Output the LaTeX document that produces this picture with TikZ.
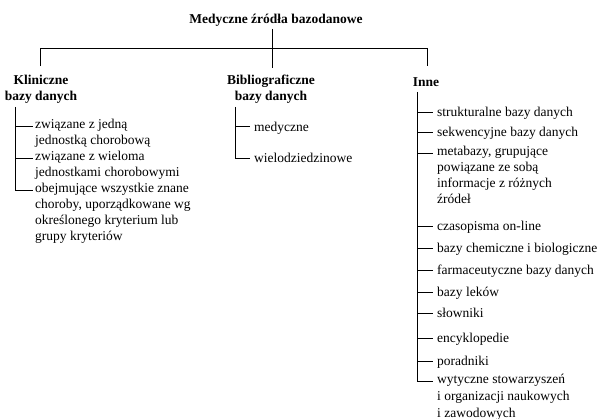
\documentclass[tikz,border=0pt]{standalone}
\usepackage{fontspec}
\setmainfont{Liberation Serif}
\begin{document}
\begin{tikzpicture}[x=1pt,y=-1pt,
  hd/.style={anchor=north, inner sep=0pt, align=center,
    font=\fontsize{13.5}{15.5}\selectfont\bfseries, execute at begin node=\strut},
  lst/.style={anchor=north west, inner sep=0pt, align=left,
    font=\fontsize{13.5}{16}\selectfont, execute at begin node=\strut},
  ln/.style={line width=0.8pt, draw=black}]
\useasboundingbox (0,0) rectangle (597,419);

% title and headings
\node[hd, anchor=base] (title) at (276,24) {Medyczne źródła bazodanowe};
\node[hd] (klin) at (41,75.15) {Kliniczne\\bazy danych};
\node[hd] (bib) at (271,75.15) {Bibliograficzne\\bazy danych};
\node[hd] (inne) at (426,75.15) {Inne};

\coordinate (jL) at (40,48);
\coordinate (jM) at (272.5,48);
\coordinate (jR) at (427,48);
\draw[ln] (title.south -| jM) -- ([yshift=7pt]bib.north -| jM);
\draw[ln] ([yshift=9pt]klin.north -| jL) -- (jL) -- (jR) -- ([yshift=9pt]inne.north -| jR);

% Kliniczne list
\node[lst] (kA) at (35,119.1) {związane z jedną\\jednostką chorobową};
\node[lst] (kB) at (35,151.1) {związane z wieloma\\jednostkami chorobowymi};
\node[lst] (kC) at (35,183.1) {obejmujące wszystkie znane\\choroby, uporządkowane wg\\określonego kryterium lub\\grupy kryteriów};
\coordinate (kv) at (15,107);
\foreach \n in {kA,kB,kC}{
  \coordinate (b\n) at ([yshift=-7.1pt]\n.north west);
  \draw[ln] (kv |- b\n) -- ([xshift=-2pt]b\n);
}
\draw[ln] (kv) -- (kv |- bkC);

% Bibliograficzne list
\node[lst] (bA) at (254,119.8) {medyczne};
\node[lst] (bB) at (254,151.3) {wielodziedzinowe};
\coordinate (bv) at (235,107);
\foreach \n in {bA,bB}{
  \coordinate (b\n) at ([yshift=-7.1pt]\n.north west);
  \draw[ln] (bv |- b\n) -- ([xshift=-4.5pt]b\n);
}
\draw[ln] (bv) -- (bv |- bbB);

% Inne list
\node[lst] (iA) at (437,105) {strukturalne bazy danych};
\node[lst] (iB) at (437,125) {sekwencyjne bazy danych};
\node[lst] (iC) at (437,146) {metabazy, grupujące\\powiązane ze sobą\\informacje z różnych\\źródeł};
\node[lst] (iD) at (437,219) {czasopisma on-line};
\node[lst] (iE) at (437,241) {bazy chemiczne i biologiczne};
\node[lst] (iF) at (437,263) {farmaceutyczne bazy danych};
\node[lst] (iG) at (437,285) {bazy leków};
\node[lst] (iH) at (437,306) {słowniki};
\node[lst] (iI) at (437,331) {encyklopedie};
\node[lst] (iJ) at (437,354) {poradniki};
\node[lst, font=\fontsize{13.5}{16.8}\selectfont] (iK) at (437,374) {wytyczne stowarzyszeń\\i organizacji naukowych\\i zawodowych};
\coordinate (iv) at (417,92);
\foreach \n in {iA,iB,iC,iD,iE,iF,iG,iH,iI,iJ,iK}{
  \coordinate (b\n) at ([yshift=-7.1pt]\n.north west);
  \draw[ln] (iv |- b\n) -- ([xshift=-4.5pt]b\n);
}
\draw[ln] (iv) -- (iv |- biK);
\end{tikzpicture}
\end{document}
